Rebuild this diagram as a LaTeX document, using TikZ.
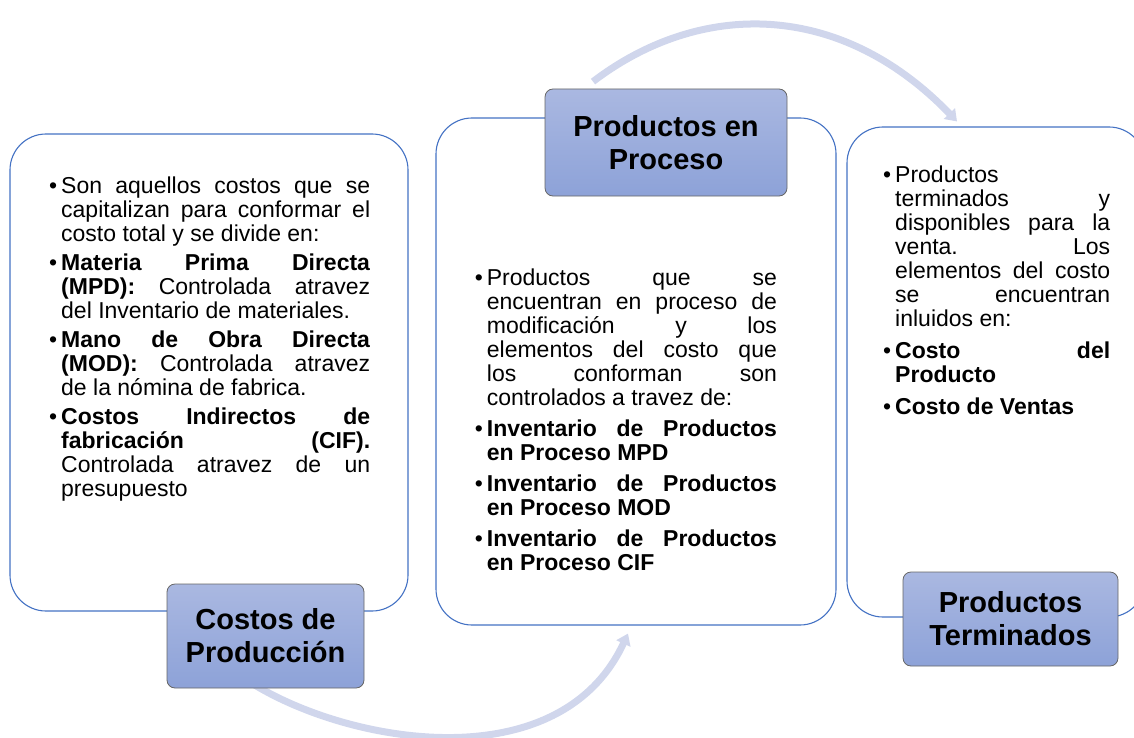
\documentclass[tikz,border=0pt]{standalone}
\usepackage{fontspec}
\setmainfont{Liberation Sans}
\usepackage{xcolor}
\usetikzlibrary{arrows.meta, backgrounds}
\definecolor{cajaazul}{HTML}{4472C4}
\definecolor{titulotop}{HTML}{AAB8E1}
\definecolor{titulobot}{HTML}{8DA2D8}
\definecolor{flechagris}{HTML}{D0D6EC}
\newcommand{\itm}{\noindent\llap{\textbullet\hspace{4pt}}}
\newcommand{\cuerpo}{\leftskip=10pt\rightskip=0pt\parindent=0pt\tolerance=10000\hbadness=10000\hyphenpenalty=10000\exhyphenpenalty=10000}
\tikzset{
	caja/.style={draw=cajaazul, line width=1.1pt, fill=white, rounded corners=36pt},
	titulo/.style={draw=black!60, line width=0.8pt, rounded corners=8pt, top color=titulotop, bottom color=titulobot, align=center, font=\fontsize{29}{33}\selectfont\bfseries},
	texto/.style={anchor=north west, inner sep=0pt, align=justify, font=\fontsize{23}{24}\selectfont},
	flecha/.style={draw=flechagris, line width=7pt, -{Triangle[width=15pt,length=11pt]}}
}

\begin{document}
\begin{tikzpicture}[x=1pt, y=-1pt]
			\useasboundingbox (0,0) rectangle (1134,738);
			\node[caja, minimum width=398pt, minimum height=477pt] (costosbox) at (209,372.5) {};
			\node[caja, minimum width=400pt, minimum height=507pt] (procesobox) at (636,371.5) {};
			\node[caja, minimum width=298pt, minimum height=490pt] (terminadosbox) at (996,372) {};
			\node[texto, text width=319pt] (costostexto) at (51,177) {\cuerpo\parskip=5pt
				\itm Son aquellos costos que se\linebreak capitalizan para conformar el\linebreak costo total y se divide en:\par
				\itm \textbf{Materia Prima Directa}\linebreak \textbf{(MPD):} Controlada atravez\linebreak del Inventario de materiales.\par
				\itm \textbf{Mano de Obra Directa}\linebreak \textbf{(MOD):} Controlada atravez\linebreak de la nómina de fabrica.\par
				\itm \textbf{Costos Indirectos de}\linebreak \textbf{fabricación (CIF).}\linebreak Controlada atravez de un\linebreak presupuesto\par};
			\node[texto, text width=300pt] (procesotexto) at (476.7,269) {\cuerpo\parskip=7pt
				\itm Productos que se\linebreak encuentran en proceso de\linebreak modificación y los\linebreak elementos del costo que\linebreak los conforman son\linebreak controlados a travez de:\par
				\itm \textbf{Inventario de Productos\linebreak en Proceso MPD}\par
				\itm \textbf{Inventario de Productos\linebreak en Proceso MOD}\par
				\itm \textbf{Inventario de Productos\linebreak en Proceso CIF}\par};
			\node[texto, text width=225pt] (terminadostexto) at (885,166) {\cuerpo\parskip=8pt
				\itm Productos\linebreak terminados y\linebreak disponibles para la\linebreak venta. Los\linebreak elementos del costo\linebreak se encuentran\linebreak inluidos en:\par
				\itm \textbf{Costo del\linebreak Producto}\par
				\itm \textbf{Costo de Ventas}\par};
			\node[titulo, minimum width=197pt, minimum height=104pt] (costos) at (265.5,636) {Costos de\\Producción};
			\node[titulo, minimum width=242pt, minimum height=107pt] (proceso) at (666,142.5) {Productos en\\Proceso};
			\node[titulo, minimum width=215pt, minimum height=94pt] (terminados) at (1010.5,619) {Productos\\Terminados};
			\begin{scope}[on background layer]
				\draw[flecha] ([xshift=-15pt,yshift=6pt]costos.south) .. controls (350,745) and (560,780) .. ([xshift=-8pt,yshift=-8pt]procesobox.south);
				\draw[flecha] ([xshift=-73pt,yshift=7pt]proceso.north) .. controls (700,0) and (840,0) .. ([xshift=-39pt,yshift=5pt]terminadosbox.north);
			\end{scope}
		\end{tikzpicture}
\end{document}
